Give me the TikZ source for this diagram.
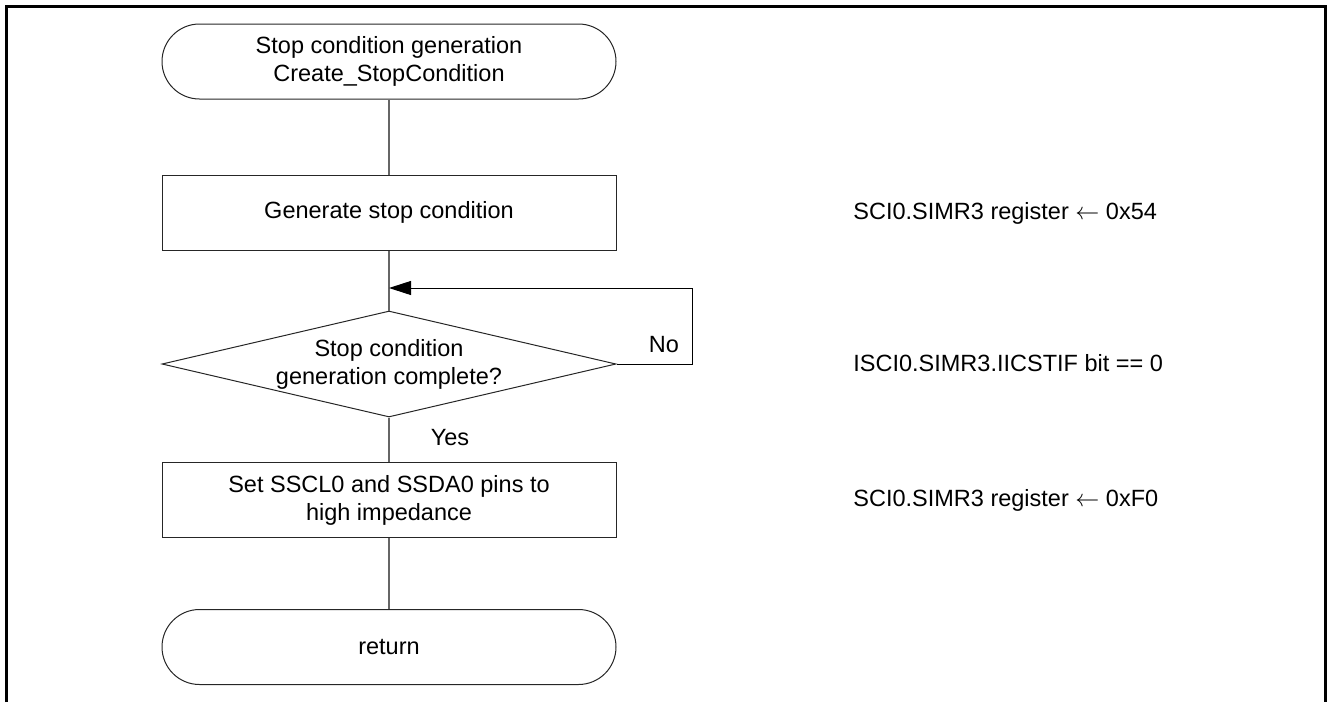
\documentclass[tikz,border=0pt]{standalone}
\usepackage{fontspec}
\setmainfont{Liberation Sans}
\usetikzlibrary{shapes.geometric,arrows.meta}
\begin{document}
\begin{tikzpicture}[x=0.5pt,y=-0.5pt,
  every node/.style={font=\fontsize{11.75pt}{14pt}\selectfont, inner sep=0pt, text=black},
  shapeline/.style={draw=black!85, line width=0.5pt},
  term/.style={shapeline, rectangle, rounded corners=18.75pt, minimum width=227pt, minimum height=37.5pt, align=center},
  proc/.style={shapeline, rectangle, minimum width=227pt, minimum height=37.5pt, align=center},
  dec/.style={shapeline, diamond, aspect=4.28, minimum width=227pt, minimum height=53pt, align=center},
  conn/.style={draw=black!60, line width=0.75pt},
  loopline/.style={draw=black, line width=0.5pt},
  note/.style={anchor=west, align=left}]
\useasboundingbox (0,0) rectangle (1328,702);
% frame
\draw[line width=1.5pt] (6.5,702) -- (6.5,6.5) -- (1325.5,6.5) -- (1325.5,702);
% nodes
\node[term] (start) at (389,61.5) {Stop condition generation\\Create\_StopCondition};
\node[proc] (gen) at (389,212.5) {Generate stop condition};
\node[dec] (chk) at (389,364) {Stop condition\\generation complete?};
\node[proc] (hiz) at (389,500) {Set SSCL0 and SSDA0 pins to\\high impedance};
\node[term] (ret) at (389,647) {return};
% connectors
\draw[conn] (start) -- (gen);
\draw[conn] (gen) -- (chk);
\draw[conn] (chk) -- (hiz);
\draw[conn] (hiz) -- (ret);
\coordinate (loopR) at (692,288);
\coordinate (join) at (389,288);
\draw[loopline, -{Triangle[length=11pt,width=7pt]}] (chk.east) -| (loopR) -- (join);
% labels
\node (no) at (664,345) {No};
\node (yes) at (450,438) {Yes};
% notes
\node[note] (n1) at (853,213) {SCI0.SIMR3 register $\leftarrow$ 0x54};
\node[note] (n2) at (853,363) {ISCI0.SIMR3.IICSTIF bit == 0};
\node[note] (n3) at (853,500) {SCI0.SIMR3 register $\leftarrow$ 0xF0};
\end{tikzpicture}
\end{document}
